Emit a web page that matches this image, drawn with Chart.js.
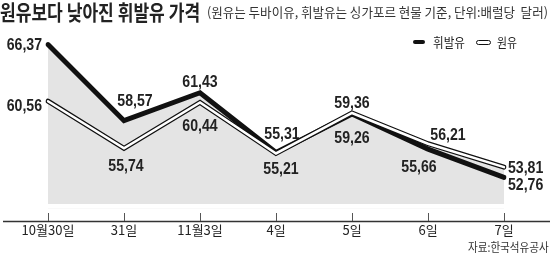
<!DOCTYPE html>
<html>
<head>
<meta charset="utf-8">
<script src="https://cdn.jsdelivr.net/npm/chart.js@4.4.1/dist/chart.umd.min.js"></script>
<style>
  body { margin: 0; background: #fff; }
  #wrap { position: relative; width: 550px; height: 262px; overflow: hidden; }
  canvas { position: absolute; left: 0; top: 0; }
  .txt { position: absolute; white-space: nowrap; line-height: 1; transform-origin: 0 0; font-family: "Noto Sans CJK KR", sans-serif; color: #222; }
  #title { left: 0; top: 1px; font-size: 21px; font-weight: 700; }
  #sub { left: 207px; top: 5px; font-size: 13px; color: #333; }
  #src { left: 468px; top: 241px; font-size: 12px; color: #333; }
  .leg { position: absolute; top: 35px; font-size: 13px; }
  #lg1 { left: 433px; }
  #lg2 { left: 497px; }
  .sw { position: absolute; }
  #sw1 { left: 413px; top: 40px; width: 12px; height: 4px; background: #111; border-radius: 2px; }
  #sw2 { left: 476px; top: 40px; width: 13px; height: 3px; background: #fff; border: 1px solid #111; border-radius: 3px; }
</style>
</head>
<body>
<div id="wrap">
  <canvas id="chart" width="550" height="262"></canvas>
  <span class="txt" id="title" data-w="200">원유보다 낮아진 휘발유 가격</span>
  <span class="txt" id="sub" data-w="341">(원유는 두바이유, 휘발유는 싱가포르 현물 기준, 단위:배럴당&nbsp; 달러)</span>
  <span class="sw" id="sw1"></span>
  <span class="txt leg" id="lg1" data-w="32">휘발유</span>
  <span class="sw" id="sw2"></span>
  <span class="txt leg" id="lg2" data-w="20">원유</span>
  <span class="txt" id="src" data-w="81">자료:한국석유공사</span>
</div>
<script>
// data
var days = ["10월30일", "31일", "11월3일", "4일", "5일", "6일", "7일"];
var gasoline = [66.37, 58.57, 61.43, 55.31, 59.26, 55.66, 52.76]; // 휘발유
var crude = [60.56, 55.74, 60.44, 55.21, 59.36, 56.21, 53.81];    // 원유

// where each value label sits relative to its point: dx, dy, align
var gasLabelPos = [[-6, 0, 'right'], [11, -20, 'center'], [0, -11, 'center'], [6, -19, 'center'], [0, 23, 'center'], [-9, 17, 'center'], [4, 7, 'left']];
var crudeLabelPos = [[-6, 4, 'right'], [2, 17, 'center'], [0, 23, 'center'], [5, 15, 'center'], [0, -11, 'center'], [20, -9, 'center'], [4, 0, 'left']];

// squeeze html texts to the reference widths
document.querySelectorAll('.txt').forEach(function (el) {
    var w = parseFloat(el.getAttribute('data-w'));
    el.style.transform = 'scaleX(' + (w / el.offsetWidth) + ')';
});

var fillGray = '#e4e4e4';

var decor = {
    id: 'decor',
    afterDatasetsDraw: function (chart) {
        var ctx = chart.ctx, a = chart.chartArea;
        ctx.save();
        // white gap + bottom strip edge
        ctx.fillStyle = '#fff';
        ctx.fillRect(a.left, 204, a.right - a.left, 4);
        ctx.fillRect(a.left, 219.6, a.right - a.left, 2);
        // axis line
        ctx.strokeStyle = '#333';
        ctx.lineWidth = 1.3;
        ctx.beginPath();
        ctx.moveTo(3, 221.5);
        ctx.lineTo(550, 221.5);
        ctx.stroke();
        // tick marks
        var xs = chart.scales.x;
        ctx.lineWidth = 1;
        ctx.strokeStyle = '#555';
        days.forEach(function (d, i) {
            var x = Math.round(xs.getPixelForValue(i)) + 0.5;
            ctx.beginPath();
            ctx.moveTo(x, 213);
            ctx.lineTo(x, 221);
            ctx.stroke();
        });
        // value labels
        ctx.font = 'bold 17px "Liberation Sans", Arial, sans-serif';
        ctx.fillStyle = '#222';
        ctx.textBaseline = 'middle';
        var sx = 0.83;
        [[0, gasoline, gasLabelPos], [2, crude, crudeLabelPos]].forEach(function (s) {
            var meta = chart.getDatasetMeta(s[0]);
            s[1].forEach(function (v, i) {
                var p = meta.data[i], pos = s[2][i];
                var t = v.toFixed(2).replace('.', ',');
                var w = ctx.measureText(t).width * sx;
                var x = p.x + pos[0];
                if (pos[2] === 'center') x -= w / 2;
                else if (pos[2] === 'right') x -= w;
                ctx.save();
                ctx.translate(x, p.y + pos[1]);
                ctx.scale(sx, 1);
                ctx.textAlign = 'left';
                ctx.fillText(t, 0, 1);
                ctx.restore();
            });
        });
        ctx.restore();
    }
};

new Chart(document.getElementById('chart'), {
    type: 'line',
    data: {
        labels: days,
        datasets: [
            {
                label: '휘발유',
                data: gasoline,
                borderColor: '#111',
                borderWidth: 5,
                borderJoinStyle: 'miter',
                borderCapStyle: 'round',
                backgroundColor: fillGray,
                fill: 'start',
                pointRadius: 0,
                tension: 0,
                order: 3
            },
            {
                label: '원유 outline',
                data: crude,
                borderColor: '#111',
                borderWidth: 5,
                borderJoinStyle: 'miter',
                borderCapStyle: 'round',
                backgroundColor: fillGray,
                fill: 'start',
                pointRadius: 0,
                tension: 0,
                order: 2
            },
            {
                label: '원유',
                data: crude,
                borderColor: '#fff',
                borderWidth: 2.6,
                borderJoinStyle: 'miter',
                borderCapStyle: 'round',
                fill: false,
                pointRadius: 0,
                tension: 0,
                order: 1
            }
        ]
    },
    options: {
        responsive: false,
        animation: false,
        layout: { padding: { top: 38.4, bottom: 18, left: 48, right: 46 } },
        plugins: {
            legend: { display: false },
            tooltip: { enabled: false },
            filler: { drawTime: 'beforeDatasetsDraw' }
        },
        scales: {
            x: {
                offset: false,
                grid: { display: false },
                border: { display: false },
                ticks: {
                    color: '#222',
                    padding: 6,
                    maxRotation: 0,
                    autoSkip: false,
                    font: { family: '"Noto Sans CJK KR", sans-serif', size: 13 }
                }
            },
            y: {
                display: false,
                min: 49.58,
                max: 67
            }
        }
    },
    plugins: [decor]
});
</script>
</body>
</html>
